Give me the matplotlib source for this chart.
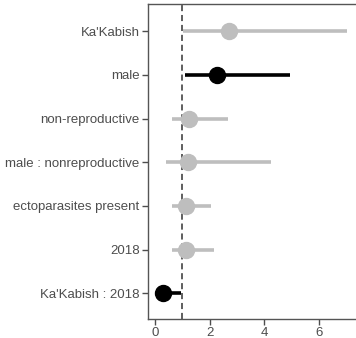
import matplotlib
matplotlib.use("Agg")
import matplotlib.pyplot as plt

# Odds-ratio estimates with 95% confidence intervals per model term
terms = ["Ka'Kabish", "male", "non-reproductive", "male : nonreproductive",
         "ectoparasites present", "2018", "Ka'Kabish : 2018"]
estimate = [2.69, 2.28, 1.26, 1.22, 1.12, 1.14, 0.28]
ci_low = [1.04, 1.10, 0.61, 0.40, 0.61, 0.61, 0.10]
ci_high = [7.04, 4.93, 2.66, 4.25, 2.04, 2.14, 0.94]
significant = [False, True, False, False, False, False, True]
x_ticks = [0, 2, 4, 6]

plt.rcParams["font.family"] = ["Liberation Sans", "DejaVu Sans"]

fig = plt.figure(figsize=(3.56, 3.38), dpi=100)
ax = fig.add_axes([148 / 356, 1 - 318.7 / 338, (356 - 148) / 356, (318.7 - 4) / 338])

n = len(terms)
ypos = list(range(n))[::-1]

ax.axvline(1, color="#333333", linestyle=(0, (4, 2.5)), linewidth=1.1, zorder=1)

for y, est, lo, hi, sig in zip(ypos, estimate, ci_low, ci_high, significant):
    col = "black" if sig else "#bebebe"
    ax.hlines(y, lo, hi, color=col, linewidth=2.6, zorder=2)
    ax.plot(est, y, "o", color=col, markersize=11.5, zorder=3)

ax.set_yticks(ypos)
ax.set_yticklabels(terms)
ax.set_xticks(x_ticks)
ax.set_xlim(-0.26, 7.36)
ax.set_ylim(-0.58, n - 1 + 0.62)

ax.spines["right"].set_visible(False)
for side in ["left", "bottom", "top"]:
    ax.spines[side].set_color("#555555")
    ax.spines[side].set_linewidth(1.0)

ax.tick_params(axis="both", colors="#4d4d4d", labelcolor="#4d4d4d",
               labelsize=9.5, length=4, width=1.0)
ax.tick_params(axis="y", pad=2)
ax.tick_params(axis="x", pad=2)

fig.savefig("out.png", dpi=100)
